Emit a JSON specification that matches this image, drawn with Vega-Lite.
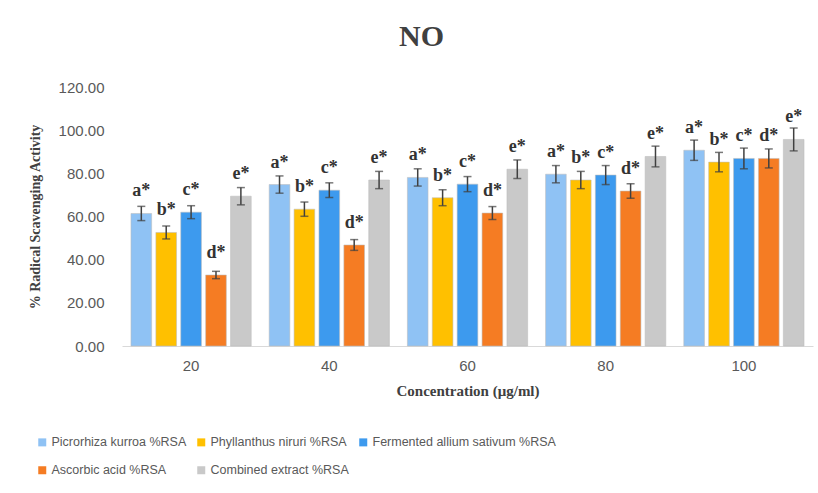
{
  "$schema": "https://vega.github.io/schema/vega-lite/v6.json",
  "width": 691,
  "height": 259,
  "autosize": {"type": "none"},
  "padding": {"left": 122, "top": 87, "right": 5, "bottom": 147},
  "background": "white",
  "title": {
    "text": "NO",
    "font": "Liberation Serif",
    "fontSize": 30,
    "fontWeight": "bold",
    "color": "#404040",
    "anchor": "middle",
    "dx": -46,
    "offset": 28
  },
  "config": {
    "view": {"stroke": null},
    "axis": {"labelFont": "Liberation Sans", "labelFontSize": 15, "labelColor": "#595959", "titleFont": "Liberation Serif", "titleFontWeight": "bold", "titleColor": "#404040"}
  },
  "data": {
    "values": [
      {"conc": "20", "series": "Picrorhiza kurroa %RSA", "value": 61.4, "err": 3.3, "label": "a*"},
      {"conc": "20", "series": "Phyllanthus niruri %RSA", "value": 52.6, "err": 3.0, "label": "b*"},
      {"conc": "20", "series": "Fermented allium sativum %RSA", "value": 62.0, "err": 3.0, "label": "c*"},
      {"conc": "20", "series": "Ascorbic acid %RSA", "value": 32.9, "err": 1.7, "label": "d*"},
      {"conc": "20", "series": "Combined extract %RSA", "value": 69.4, "err": 4.0, "label": "e*"},
      {"conc": "40", "series": "Picrorhiza kurroa %RSA", "value": 74.8, "err": 4.0, "label": "a*"},
      {"conc": "40", "series": "Phyllanthus niruri %RSA", "value": 63.4, "err": 3.3, "label": "b*"},
      {"conc": "40", "series": "Fermented allium sativum %RSA", "value": 72.2, "err": 3.4, "label": "c*"},
      {"conc": "40", "series": "Ascorbic acid %RSA", "value": 46.8, "err": 2.5, "label": "d*"},
      {"conc": "40", "series": "Combined extract %RSA", "value": 76.9, "err": 4.0, "label": "e*"},
      {"conc": "60", "series": "Picrorhiza kurroa %RSA", "value": 78.1, "err": 4.0, "label": "a*"},
      {"conc": "60", "series": "Phyllanthus niruri %RSA", "value": 68.7, "err": 3.7, "label": "b*"},
      {"conc": "60", "series": "Fermented allium sativum %RSA", "value": 75.0, "err": 3.5, "label": "c*"},
      {"conc": "60", "series": "Ascorbic acid %RSA", "value": 61.6, "err": 3.0, "label": "d*"},
      {"conc": "60", "series": "Combined extract %RSA", "value": 81.9, "err": 4.3, "label": "e*"},
      {"conc": "80", "series": "Picrorhiza kurroa %RSA", "value": 79.6, "err": 4.0, "label": "a*"},
      {"conc": "80", "series": "Phyllanthus niruri %RSA", "value": 76.9, "err": 4.0, "label": "b*"},
      {"conc": "80", "series": "Fermented allium sativum %RSA", "value": 79.2, "err": 4.4, "label": "c*"},
      {"conc": "80", "series": "Ascorbic acid %RSA", "value": 71.8, "err": 3.4, "label": "d*"},
      {"conc": "80", "series": "Combined extract %RSA", "value": 87.8, "err": 4.8, "label": "e*"},
      {"conc": "100", "series": "Picrorhiza kurroa %RSA", "value": 90.7, "err": 4.7, "label": "a*"},
      {"conc": "100", "series": "Phyllanthus niruri %RSA", "value": 85.2, "err": 4.5, "label": "b*"},
      {"conc": "100", "series": "Fermented allium sativum %RSA", "value": 86.9, "err": 4.8, "label": "c*"},
      {"conc": "100", "series": "Ascorbic acid %RSA", "value": 86.9, "err": 4.4, "label": "d*"},
      {"conc": "100", "series": "Combined extract %RSA", "value": 95.7, "err": 5.3, "label": "e*"}
    ]
  },
  "encoding": {
    "x": {
      "field": "conc",
      "type": "nominal",
      "sort": ["20", "40", "60", "80", "100"],
      "scale": {"paddingInner": 0.13, "paddingOuter": 0.065},
      "axis": {
        "title": "Concentration (μg/ml)",
        "titleFontSize": 15,
        "titlePadding": 10,
        "labelAngle": 0,
        "labelPadding": 12,
        "ticks": false,
        "domainColor": "#d9d9d9",
        "domainWidth": 1
      }
    },
    "xOffset": {
      "field": "series",
      "type": "nominal",
      "sort": ["Picrorhiza kurroa %RSA", "Phyllanthus niruri %RSA", "Fermented allium sativum %RSA", "Ascorbic acid %RSA", "Combined extract %RSA"],
      "scale": {"paddingInner": 0.17, "paddingOuter": 0}
    }
  },
  "layer": [
    {
      "mark": {"type": "bar", "stroke": "#bdbdbd", "strokeWidth": 0.8, "strokeOpacity": 0.7},
      "encoding": {
        "y": {
          "field": "value",
          "type": "quantitative",
          "title": "% Radical Scavenging Activity",
          "scale": {"domain": [0, 120]},
          "axis": {
            "titleFontSize": 14,
            "titlePadding": 16,
            "values": [0, 20, 40, 60, 80, 100, 120],
            "format": ".2f",
            "grid": false,
            "domain": false,
            "ticks": false,
            "labelPadding": 18
          }
        },
        "color": {
          "field": "series",
          "type": "nominal",
          "sort": ["Picrorhiza kurroa %RSA", "Phyllanthus niruri %RSA", "Fermented allium sativum %RSA", "Ascorbic acid %RSA", "Combined extract %RSA"],
          "scale": {
            "domain": ["Picrorhiza kurroa %RSA", "Phyllanthus niruri %RSA", "Fermented allium sativum %RSA", "Ascorbic acid %RSA", "Combined extract %RSA"],
            "range": ["#8fc2f4", "#ffc000", "#3d9aee", "#f57c23", "#c9c9c9"]
          },
          "legend": {
            "title": null,
            "orient": "none",
            "legendX": -86,
            "legendY": 349,
            "direction": "horizontal",
            "columns": 3,
            "symbolType": "square",
            "symbolSize": 64,
            "symbolStrokeWidth": 0,
            "labelFont": "Liberation Sans",
            "labelFontSize": 12.5,
            "labelColor": "#595959",
            "labelLimit": 300,
            "columnPadding": 8,
            "rowPadding": 15,
            "labelOffset": 3
          }
        }
      }
    },
    {
      "mark": {"type": "errorbar", "ticks": {"size": 8, "color": "#404040", "thickness": 1.5}, "rule": {"color": "#404040", "strokeWidth": 1.5}},
      "encoding": {
        "y": {"field": "value", "type": "quantitative", "title": "% Radical Scavenging Activity"},
        "yError": {"field": "err"}
      }
    },
    {
      "mark": {"type": "text", "baseline": "bottom", "dy": -13, "font": "Liberation Serif", "fontWeight": "bold", "fontSize": 18, "color": "#333333"},
      "encoding": {
        "y": {"field": "value", "type": "quantitative", "title": "% Radical Scavenging Activity"},
        "text": {"field": "label"}
      }
    }
  ]
}
